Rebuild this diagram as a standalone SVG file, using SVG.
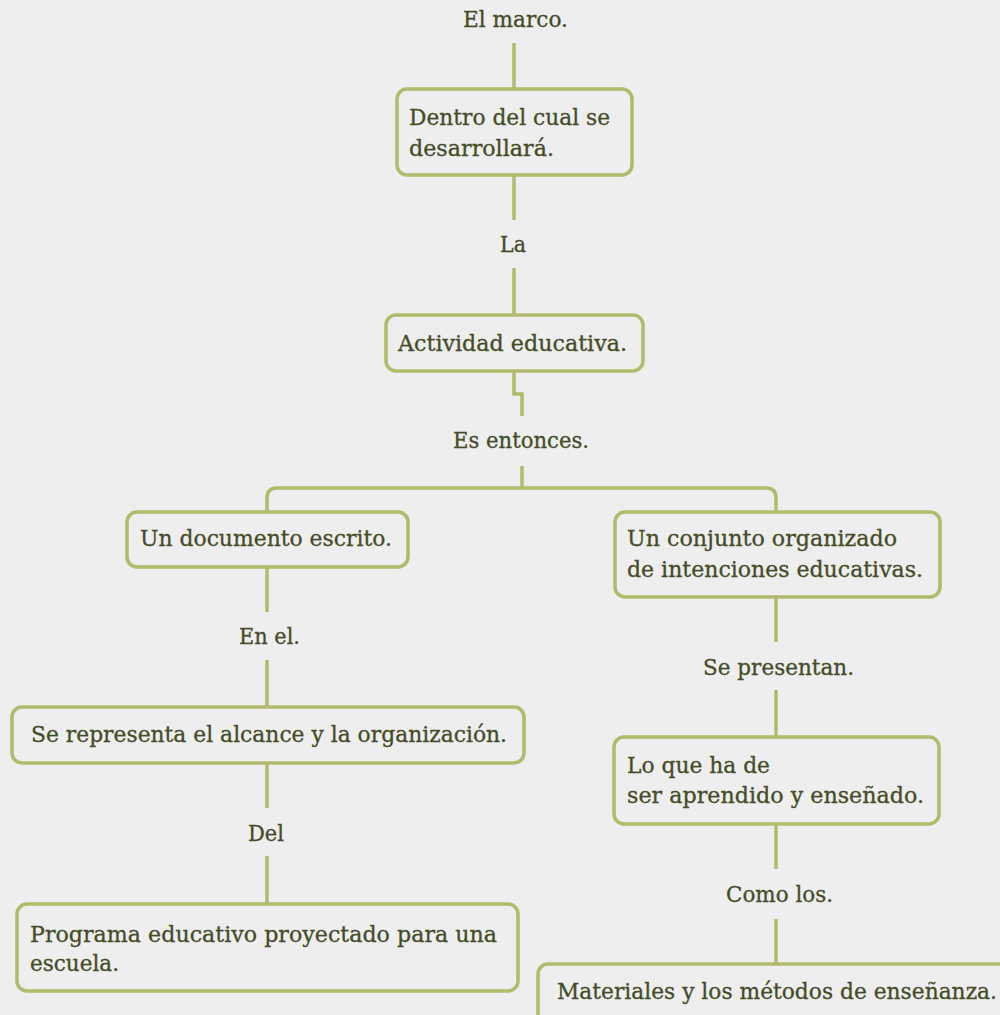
<svg xmlns="http://www.w3.org/2000/svg" width="1000" height="1015" viewBox="0 0 1000 1015">
<style>
.bg{fill:#eeeeee}
.box{fill:#eeeeee;stroke:#b2ba6c;stroke-width:3.5}
.ln{fill:none;stroke:#b2ba6c;stroke-width:3.5}
text{font-family:"DejaVu Serif","Liberation Serif",serif;font-size:22px;fill:#444c28;stroke:#444c28;stroke-width:0.3}
</style>
<rect class="bg" x="0" y="0" width="1000" height="1015"/>
<g id="connectors">
<path class="ln" d="M514,43V88"/>
<path class="ln" d="M514,175V220"/>
<path class="ln" d="M514,268V315"/>
<path class="ln" d="M514,371V394H522V416"/>
<path class="ln" d="M522,466V488"/>
<path class="ln" d="M267,511V498Q267,488 277,488H766Q776,488 776,498V511"/>
<path class="ln" d="M267,567V612"/>
<path class="ln" d="M267,660V707"/>
<path class="ln" d="M267,763V808"/>
<path class="ln" d="M267,856V904"/>
<path class="ln" d="M776,597V642"/>
<path class="ln" d="M776,690V737"/>
<path class="ln" d="M776,824V869"/>
<path class="ln" d="M776,919V963"/>
</g>
<g id="n-marco"><text x="463" y="27" textLength="105" lengthAdjust="spacingAndGlyphs">El marco.</text></g>
<g id="n-dentro">
<rect class="box" x="397" y="89" width="235" height="86" rx="10"/>
<text x="409" y="125" textLength="201" lengthAdjust="spacingAndGlyphs">Dentro del cual se</text>
<text x="409" y="156" textLength="145" lengthAdjust="spacingAndGlyphs">desarrollará.</text>
</g>
<g id="n-la"><text x="500" y="252" textLength="26" lengthAdjust="spacingAndGlyphs">La</text></g>
<g id="n-actividad">
<rect class="box" x="386" y="315" width="257" height="56" rx="10"/>
<text x="398" y="351" textLength="229" lengthAdjust="spacingAndGlyphs">Actividad educativa.</text>
</g>
<g id="n-entonces"><text x="453" y="448" textLength="136" lengthAdjust="spacingAndGlyphs">Es entonces.</text></g>
<g id="n-documento">
<rect class="box" x="127" y="512" width="281" height="55" rx="10"/>
<text x="140" y="546" textLength="252" lengthAdjust="spacingAndGlyphs">Un documento escrito.</text>
</g>
<g id="n-conjunto">
<rect class="box" x="615" y="512" width="325" height="85" rx="10"/>
<text x="627" y="546" textLength="270" lengthAdjust="spacingAndGlyphs">Un conjunto organizado</text>
<text x="627" y="577" textLength="296" lengthAdjust="spacingAndGlyphs">de intenciones educativas.</text>
</g>
<g id="n-enel"><text x="239" y="644" textLength="61" lengthAdjust="spacingAndGlyphs">En el.</text></g>
<g id="n-representa">
<rect class="box" x="12" y="707" width="512" height="56" rx="10"/>
<text x="31" y="742" textLength="476" lengthAdjust="spacingAndGlyphs">Se representa el alcance y la organización.</text>
</g>
<g id="n-del"><text x="248" y="841" textLength="36" lengthAdjust="spacingAndGlyphs">Del</text></g>
<g id="n-programa">
<rect class="box" x="17" y="904" width="501" height="87" rx="10"/>
<text x="30" y="942" textLength="467" lengthAdjust="spacingAndGlyphs">Programa educativo proyectado para una</text>
<text x="30" y="971" textLength="89" lengthAdjust="spacingAndGlyphs">escuela.</text>
</g>
<g id="n-presentan"><text x="703" y="675" textLength="151" lengthAdjust="spacingAndGlyphs">Se presentan.</text></g>
<g id="n-loque">
<rect class="box" x="614" y="737" width="325" height="87" rx="10"/>
<text x="627" y="773" textLength="143" lengthAdjust="spacingAndGlyphs">Lo que ha de</text>
<text x="627" y="803" textLength="297" lengthAdjust="spacingAndGlyphs">ser aprendido y enseñado.</text>
</g>
<g id="n-comolos"><text x="726" y="902" textLength="107" lengthAdjust="spacingAndGlyphs">Como los.</text></g>
<g id="n-materiales">
<rect class="box" x="538" y="964" width="480" height="60" rx="10"/>
<text x="557" y="999" textLength="440" lengthAdjust="spacingAndGlyphs">Materiales y los métodos de enseñanza.</text>
</g>
</svg>
